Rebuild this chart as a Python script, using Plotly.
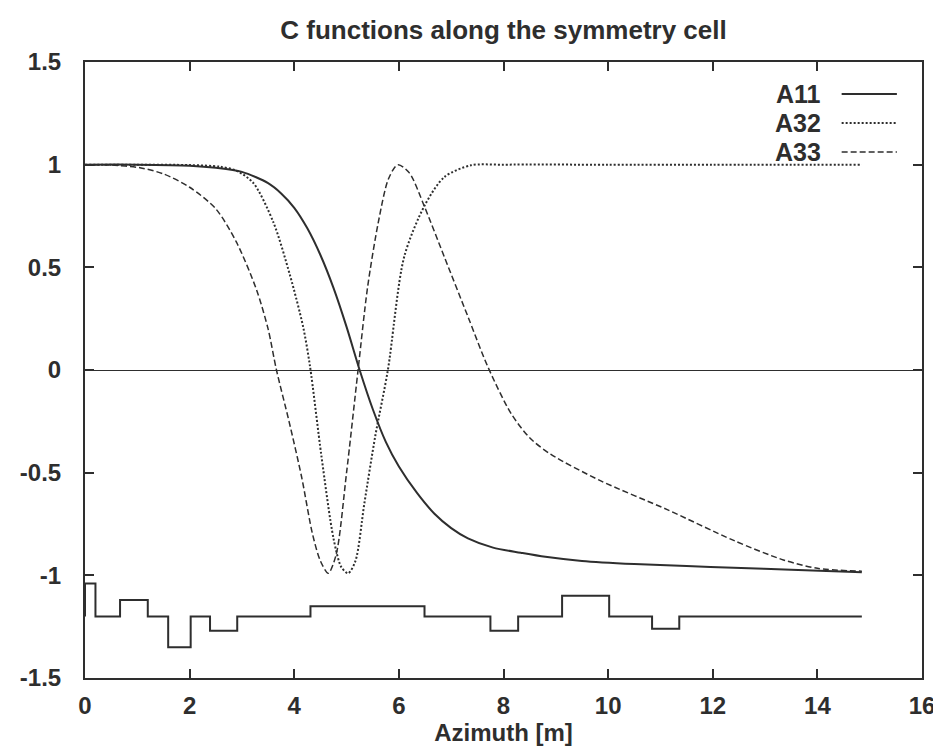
import plotly.graph_objects as go

# C functions
a11_s = [0, 1, 2, 2.5, 3.0, 3.5, 3.75, 4.0, 4.25, 4.5, 4.75, 5.0, 5.25, 5.5, 5.75, 6.0, 6.35, 6.68, 7.0, 7.32, 7.8, 8.33, 8.8, 9.5, 10.5, 11.5, 12.4, 13.5, 14.85]
a11_c = [1, 1, 0.995, 0.985, 0.965, 0.91, 0.86, 0.79, 0.69, 0.56, 0.4, 0.21, 0.0, -0.19, -0.35, -0.47, -0.6, -0.7, -0.77, -0.82, -0.865, -0.89, -0.91, -0.93, -0.945, -0.955, -0.963, -0.973, -0.985]

a32_s = [0, 1, 2, 2.58, 2.9, 3.22, 3.6, 3.92, 4.17, 4.3, 4.52, 4.75, 4.9, 5.03, 5.17, 5.34, 5.55, 5.79, 6.1, 6.49, 6.87, 7.38, 8.0, 10, 12, 14.85]
a32_c = [1, 1, 0.998, 0.99, 0.97, 0.91, 0.72, 0.46, 0.21, 0.02, -0.42, -0.82, -0.96, -0.99, -0.93, -0.65, -0.32, 0.0, 0.55, 0.8, 0.94, 0.997, 1, 1, 1, 1]

a33_s = [0, 0.5, 1.05, 1.5, 2.0, 2.5, 2.9, 3.28, 3.5, 3.66, 3.9, 4.14, 4.35, 4.5, 4.65, 4.8, 5.0, 5.22, 5.4, 5.6, 5.8, 5.98, 6.2, 6.49, 6.87, 7.32, 7.7, 8.14, 8.5, 8.9, 9.86, 11.13, 12.4, 13.35, 14.0, 14.85]
a33_c = [1, 0.998, 0.985, 0.955, 0.89, 0.785, 0.62, 0.39, 0.2, 0.0, -0.25, -0.52, -0.8, -0.93, -0.99, -0.9, -0.5, 0.0, 0.4, 0.71, 0.93, 1.0, 0.96, 0.795, 0.55, 0.26, 0.016, -0.21, -0.33, -0.41, -0.54, -0.68, -0.83, -0.925, -0.966, -0.98]

# lattice sketch under the curves: element start, end, and level of its box
lat_base = -1.2
lat_end = 14.85
elem_start = [0.0, 0.67, 1.59, 2.39, 4.31, 7.75, 9.12, 10.84]
elem_end = [0.2, 1.2, 2.02, 2.91, 6.49, 8.28, 10.02, 11.36]
elem_level = [-1.04, -1.12, -1.35, -1.27, -1.15, -1.27, -1.10, -1.26]

x_ticks = [0, 2, 4, 6, 8, 10, 12, 14, 16]
y_ticks = [-1.5, -1, -0.5, 0, 0.5, 1, 1.5]
y_labels = ["-1.5", "-1", "-0.5", "0", "0.5", "1", "1.5"]

INK = "#2e2e2e"
FONT = "Liberation Sans, Arial, sans-serif"

# the page body keeps an 8px margin, so the figure is sized to fit inside it
W, H = 933, 739

lat_x, lat_y = [0.0], [lat_base]
for s, e, lv in zip(elem_start, elem_end, elem_level):
    lat_x += [s, s, e, e]
    lat_y += [lat_base, lv, lv, lat_base]
lat_x.append(lat_end)
lat_y.append(lat_base)

fig = go.Figure()

series = [
    ("A11", a11_s, a11_c, dict(color=INK, width=2)),
    ("A32", a32_s, a32_c, dict(color=INK, width=2, dash="2px,2px")),
    ("A33", a33_s, a33_c, dict(color=INK, width=1.5, dash="6px,3px")),
]
for name, s, c, line in series:
    fig.add_trace(go.Scatter(x=s, y=c, name=name, mode="lines",
                             line=dict(shape="spline", smoothing=0.8, **line)))

fig.add_trace(go.Scatter(x=lat_x, y=lat_y, mode="lines", showlegend=False,
                         line=dict(color=INK, width=2)))

# gnuplot-style key: label on the left, sample on the right
key_y = [0.948, 0.901, 0.854]
for (name, _, _, line), ky in zip(series, key_y):
    fig.add_annotation(x=0.882, y=ky, xref="paper", yref="paper", text=f"<b>{name}</b>",
                       showarrow=False, xanchor="right", yanchor="middle",
                       font=dict(family=FONT, size=25, color=INK))
    fig.add_shape(type="line", xref="paper", yref="paper", x0=0.904, x1=0.970, y0=ky, y1=ky,
                  line=line)

axis_common = dict(
    showline=True, linecolor=INK, linewidth=2, mirror="ticks",
    ticks="inside", ticklen=9, tickwidth=1.5, tickcolor=INK,
    showgrid=False, automargin=False,
    tickfont=dict(family=FONT, size=24, color=INK, weight="bold"),
)

fig.update_xaxes(range=[0, 16], tickvals=x_ticks, ticklabelstandoff=5,
                 title=dict(text="<b>Azimuth [m]</b>", standoff=2,
                            font=dict(family=FONT, size=24, color=INK)),
                 zeroline=False, **axis_common)
fig.update_yaxes(range=[-1.5, 1.5], tickvals=y_ticks, ticktext=y_labels, ticklabelstandoff=17,
                 zeroline=True, zerolinecolor=INK, zerolinewidth=1,
                 **axis_common)

fig.update_layout(
    width=W, height=H,
    margin=dict(l=77, r=19, t=54, b=69),
    paper_bgcolor="white", plot_bgcolor="white",
    showlegend=False,
    title=dict(text="<b>C functions along the symmetry cell</b>", x=0.5, xref="paper",
               y=1 - 22 / H, yanchor="middle", automargin=False,
               font=dict(family=FONT, size=26, color=INK)),
)

fig.write_html("out.html")
